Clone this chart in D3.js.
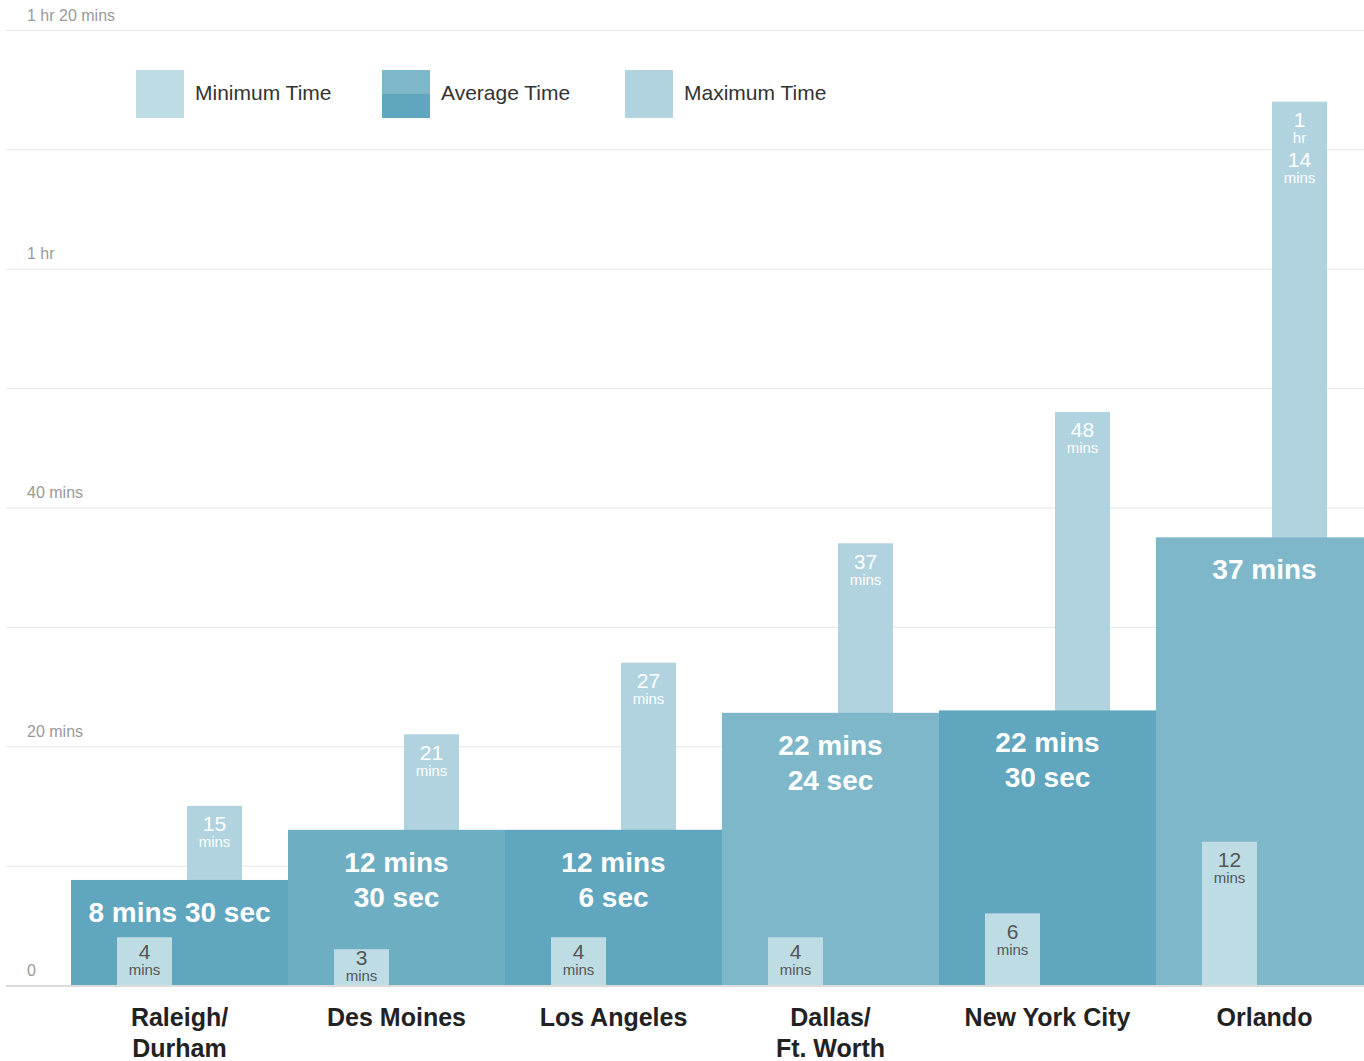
<!DOCTYPE html>
<html>
<head>
<meta charset="utf-8">
<script src="https://cdn.jsdelivr.net/npm/d3@7"></script>
<style>
  body { margin: 0; background: #fff; }
  svg { display: block; font-family: "Liberation Sans", Arial, sans-serif; }
</style>
</head>
<body>
<svg></svg>
<script>
// Data
let cities = ['Raleigh/ Durham', 'Des Moines', 'Los Angeles', 'Dallas/ Ft. Worth', 'New York City', 'Orlando'];
let cityLines = [['Raleigh/', 'Durham'], ['Des Moines'], ['Los Angeles'], ['Dallas/', 'Ft. Worth'], ['New York City'], ['Orlando']];
let minTimes = [4, 3, 4, 4, 6, 12];
let maxTimes = [15, 21, 27, 37, 48, 74];
let avgTimes = [8.8, 13, 13, 22.8, 23, 37.5];
let avgLabels = [['8 mins 30 sec'], ['12 mins', '30 sec'], ['12 mins', '6 sec'], ['22 mins', '24 sec'], ['22 mins', '30 sec'], ['37 mins']];
let minLabels = [['4', 'mins'], ['3', 'mins'], ['4', 'mins'], ['4', 'mins'], ['6', 'mins'], ['12', 'mins']];
let maxLabels = [['15', 'mins'], ['21', 'mins'], ['27', 'mins'], ['37', 'mins'], ['48', 'mins'], ['1', 'hr', '14', 'mins']];
let tickValues = [0, 10, 20, 30, 40, 50, 60, 70, 80];
let tickLabels = ['0', '', '20 mins', '', '40 mins', '', '1 hr', '', '1 hr 20 mins'];
let legendLabels = ['Minimum Time', 'Average Time', 'Maximum Time'];

// Colours
let avgColors = ['#5fa6be', '#6daec3', '#5fa6be', '#7eb7ca', '#5fa6be', '#7eb7ca'];
let minColor = '#bedce4';
let maxColor = '#b0d3df';

let width = 1364;
let height = 1061;

let svg = d3.select('svg')
    .attr('width', width)
    .attr('height', height);

let xScale = d3.scaleBand()
    .domain(cities)
    .range([71, 1373])
    .padding(0);

let yScale = d3.scaleLinear()
    .domain([0, 80])
    .range([985, 30]);

let rows = cities.map((c, i) => ({
    city: c, i: i,
    min: minTimes[i], max: maxTimes[i], avg: avgTimes[i]
}));

let barW = 55;

// Grid + labels
let yAxis = d3.axisRight(yScale)
    .tickValues(tickValues)
    .tickSize(width - 6)
    .tickFormat((d, i) => tickLabels[i]);

let axisG = svg.append('g')
    .attr('transform', 'translate(6, 0)')
    .call(yAxis);
axisG.select('.domain').remove();
axisG.selectAll('.tick line')
    .attr('stroke', '#e6e6e6')
    .attr('stroke-width', 1);
axisG.selectAll('.tick text')
    .attr('x', 21)
    .attr('dy', -10)
    .attr('text-anchor', 'start')
    .attr('fill', '#999')
    .style('font-size', '16px');

// Max bars (behind the average bars)
svg.append('g').selectAll('rect')
    .data(rows)
    .enter()
    .append('rect')
    .attr('x', d => xScale(d.city) + xScale.bandwidth() / 2 + 7.5)
    .attr('y', d => yScale(d.max))
    .attr('width', barW)
    .attr('height', d => yScale(0) - yScale(d.max))
    .attr('fill', maxColor);

// Average bars
svg.append('g').selectAll('rect')
    .data(rows)
    .enter()
    .append('rect')
    .attr('x', d => xScale(d.city))
    .attr('y', d => yScale(d.avg))
    .attr('width', xScale.bandwidth())
    .attr('height', d => yScale(0) - yScale(d.avg))
    .attr('fill', d => avgColors[d.i]);

// Min bars
svg.append('g').selectAll('rect')
    .data(rows)
    .enter()
    .append('rect')
    .attr('x', d => xScale(d.city) + xScale.bandwidth() / 2 - 62.5)
    .attr('y', d => yScale(d.min))
    .attr('width', barW)
    .attr('height', d => yScale(0) - yScale(d.min))
    .attr('fill', minColor);

// Baseline
svg.append('line')
    .attr('x1', 6).attr('x2', width)
    .attr('y1', yScale(0) + 1).attr('y2', yScale(0) + 1)
    .attr('stroke', '#dcdcdc')
    .attr('stroke-width', 2);

// Stacked labels: big number then small unit
let stackLabel = (g, lines, cx, firstY, color) => {
    let y = firstY;
    lines.forEach((t, k) => {
        let big = k % 2 === 0;
        if (k > 0) y += big ? 22 : 18;
        g.append('text')
            .attr('x', cx)
            .attr('y', y)
            .attr('dy', '0.35em')
            .attr('text-anchor', 'middle')
            .attr('fill', color)
            .style('font-size', big ? '21px' : '15px')
            .text(t);
    });
};

let labelG = svg.append('g');
rows.forEach(d => {
    let c = xScale(d.city) + xScale.bandwidth() / 2;
    let maxTop = yScale(d.max);
    stackLabel(labelG, maxLabels[d.i], c + 7.5 + barW / 2, maxTop + 18, '#fff');

    // short min bars get their label centred in the bar
    let minTop = yScale(d.min);
    let minY = Math.min(minTop + 18, (minTop + yScale(0)) / 2 - 9);
    stackLabel(labelG, minLabels[d.i], c - 62.5 + barW / 2, minY, '#555');

    avgLabels[d.i].forEach((t, k) => {
        labelG.append('text')
            .attr('x', c)
            .attr('y', yScale(d.avg) + 32 + k * 35)
            .attr('dy', '0.35em')
            .attr('text-anchor', 'middle')
            .attr('fill', '#fff')
            .style('font-size', '28px')
            .style('font-weight', 'bold')
            .text(t);
    });

    cityLines[d.i].forEach((t, k) => {
        labelG.append('text')
            .attr('x', c)
            .attr('y', 1026 + k * 31)
            .attr('text-anchor', 'middle')
            .attr('fill', '#222')
            .style('font-size', '25px')
            .style('font-weight', 'bold')
            .text(t);
    });
});

// Legend
let legendX = [136, 382, 625];
let legend = svg.append('g').selectAll('g')
    .data(legendLabels)
    .enter()
    .append('g')
    .attr('transform', (d, i) => `translate(${legendX[i]}, 70)`);

legend.each(function (d, i) {
    let g = d3.select(this);
    if (i === 1) {
        g.append('rect').attr('width', 48).attr('height', 24).attr('fill', '#7eb7ca');
        g.append('rect').attr('y', 24).attr('width', 48).attr('height', 24).attr('fill', '#5fa6be');
    } else {
        g.append('rect').attr('width', 48).attr('height', 48).attr('fill', i === 0 ? minColor : maxColor);
    }
    g.append('text')
        .attr('x', 59)
        .attr('y', 23)
        .attr('dy', '0.35em')
        .attr('fill', '#333')
        .style('font-size', '21px')
        .text(d);
});
</script>
</body>
</html>
